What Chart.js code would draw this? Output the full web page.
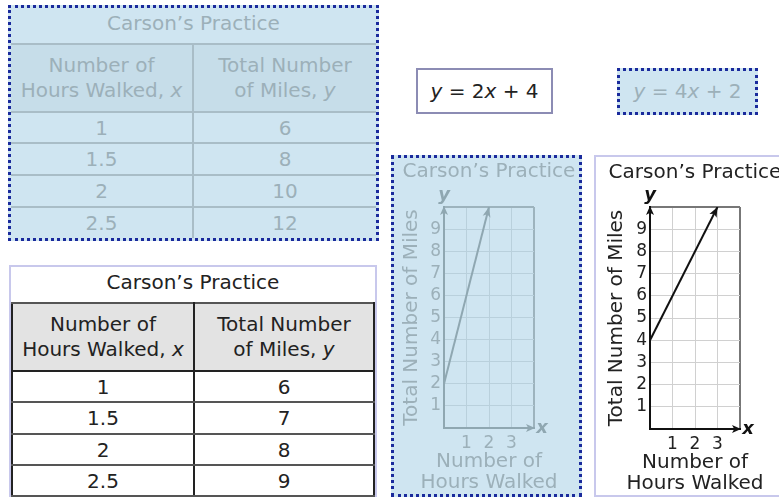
<!DOCTYPE html>
<html>
<head>
<meta charset="utf-8">
<title>Carson's Practice</title>
<script src="https://cdn.jsdelivr.net/npm/chart.js@4.4.1/dist/chart.umd.min.js"></script>
<style>
  body { margin: 0; background: #fff; font-family: "DejaVu Sans", Verdana, sans-serif; }
  #page { position: relative; width: 779px; height: 497px; overflow: hidden; }
  .abs { position: absolute; box-sizing: border-box; }
  .sel { border: 3px dotted #1a2a9c; background: #cfe5f1; color: #9cb0b9; }
  .plain { border: 2px solid #c8c8ec; background: #fff; color: #222; }
  .ttl { text-align: center; font-size: 20px; }
  table { border-collapse: collapse; width: 100%; table-layout: fixed; }
  td { text-align: center; font-size: 20px; padding: 0; }
  td.h { line-height: 25px; }
  #tblA td { border: 2px solid #a9bdc7; }
  #tblA tr td:first-child { border-left: none; }
  #tblA tr td:last-child { border-right: none; }
  #tblA tr:last-child td { border-bottom: none; }
  #tblA tr.hd td { background: #c6dde9; }
  #tblB table { border: 2px solid #222; }
  #tblB td { border: 2px solid #222; }
  #tblB td { border-top-color: #555; border-bottom-color: #555; }
  #tblB tr.hd td { background: #e3e3e3; border-bottom-color: #222; }
  .eq { font-size: 20px; text-align: center; }
  canvas { position: absolute; }
</style>
</head>
<body>
<div id="page">
  <div class="abs sel" id="tblA" style="left:8px;top:5px;width:371px;height:236px;"></div>
  <div class="abs plain" id="tblB" style="left:9px;top:265px;width:368px;height:240px;"></div>
  <div class="abs plain eq" id="eqA" style="left:416px;top:68px;width:137px;height:46px;line-height:42px;border-color:#8c8cb4;"></div>
  <div class="abs sel eq" id="eqB" style="left:617px;top:68px;width:141px;height:47px;line-height:41px;"></div>
  <div class="abs sel" style="left:391px;top:155px;width:191px;height:342px;"></div>
  <div class="abs plain" style="left:594px;top:155px;width:200px;height:342px;"></div>
  <canvas id="graphA" width="190" height="336" style="left:394px;top:158px;"></canvas>
  <canvas id="graphB" width="198" height="338" style="left:596px;top:157px;"></canvas>
</div>
<script>
// table values
const tableTitle = 'Carson’s Practice';
const hoursWalked = ['1', '1.5', '2', '2.5'];
const milesTableA = ['6', '8', '10', '12'];
const milesTableB = ['6', '7', '8', '9'];

// equation choices, y = m x + b
const eqSlopes = [2, 4];
const eqIntercepts = [4, 2];

// graph lines (x = hours, y = miles)
const graphAHours = [0, 2];
const graphAMiles = [2, 10];
const graphBHours = [0, 3];
const graphBMiles = [4, 10];

const xTickLabels = ['1', '2', '3'];
const yTickLabels = ['1', '2', '3', '4', '5', '6', '7', '8', '9'];
const xAxisTitle = ['Number of', 'Hours Walked'];
const yAxisTitle = 'Total Number of Miles';

const FONT = '"DejaVu Sans", Verdana, sans-serif';
Chart.defaults.font.family = FONT;

function tableHtml(miles, rowHeights) {
  const rows = hoursWalked.map((h, i) =>
    `<tr style="height:${rowHeights[i]}px"><td>${h}</td><td>${miles[i]}</td></tr>`).join('');
  return `
    <div class="ttl" style="height:35px;line-height:30px;">${tableTitle}</div>
    <table>
      <colgroup><col style="width:182px"><col></colgroup>
      <tr class="hd" style="height:68px">
        <td class="h">Number of<br>Hours Walked, <i>x</i></td>
        <td class="h">Total Number<br>of Miles, <i>y</i></td>
      </tr>
      ${rows}
    </table>`;
}

document.getElementById('tblA').innerHTML = tableHtml(milesTableA, [31, 32, 32, 31]);
document.getElementById('tblB').innerHTML = tableHtml(milesTableB, [31, 32, 31, 31]);
document.getElementById('eqA').innerHTML = `<i>y</i> = ${eqSlopes[0]}<i>x</i> + ${eqIntercepts[0]}`;
document.getElementById('eqB').innerHTML = `<i>y</i> = ${eqSlopes[1]}<i>x</i> + ${eqIntercepts[1]}`;

function arrowHead(ctx, x, y, ang, len, half) {
  ctx.save();
  ctx.translate(x, y);
  ctx.rotate(ang);
  ctx.beginPath();
  ctx.moveTo(0, 0);
  ctx.lineTo(-len, -half);
  ctx.lineTo(-len * 0.75, 0);
  ctx.lineTo(-len, half);
  ctx.closePath();
  ctx.fill();
  ctx.restore();
}

// arrows on axes and data line, the x / y letters and the x axis title
const arrowPlugin = {
  id: 'axisArrows',
  afterDatasetsDraw(chart, args, opts) {
    const { ctx, chartArea: a } = chart;
    ctx.save();
    ctx.fillStyle = opts.axis;
    arrowHead(ctx, a.left, a.top - 1, -Math.PI / 2, 9, 4);
    arrowHead(ctx, a.right + 1, a.bottom, 0, 9, 4);

    const pts = chart.getDatasetMeta(0).data;
    const p0 = pts[pts.length - 2], p1 = pts[pts.length - 1];
    ctx.fillStyle = opts.line;
    arrowHead(ctx, p1.x, p1.y, Math.atan2(p1.y - p0.y, p1.x - p0.x), 10, 4);

    ctx.fillStyle = opts.letter;
    ctx.font = 'italic bold 18px ' + FONT;
    ctx.textAlign = 'center';
    ctx.textBaseline = 'middle';
    ctx.fillText('y', a.left, a.top - 12);
    ctx.fillText('x', a.right + 8, a.bottom);

    // the bottom title is wider than the plot, so it is drawn here unsquashed
    ctx.fillStyle = opts.text;
    ctx.font = '20px ' + FONT;
    const cx = (a.left + a.right) / 2;
    xAxisTitle.forEach((t, i) => ctx.fillText(t, cx, a.bottom + 34 + i * 21));
    ctx.restore();
  }
};

function makeGraph(id, xs, ys, c, g) {
  const pts = xs.map((x, i) => ({ x: x, y: ys[i] }));
  return new Chart(document.getElementById(id), {
    type: 'scatter',
    data: {
      datasets: [{
        data: pts,
        showLine: true,
        borderColor: c.line,
        borderWidth: 2,
        pointRadius: 0
      }]
    },
    options: {
      responsive: false,
      animation: false,
      events: [],
      plugins: {
        legend: { display: false },
        tooltip: { enabled: false },
        title: {
          display: true,
          text: tableTitle,
          color: c.text,
          font: { size: 20, lineHeight: 1.2, weight: 'normal' },
          padding: { top: g.titleTop, bottom: g.titleBottom }
        },
        axisArrows: { axis: c.axis, line: c.line, letter: c.letter, text: c.text }
      },
      scales: {
        x: {
          type: 'linear',
          min: 0,
          max: 4,
          afterFit: s => { s.height = g.xh; s.paddingRight = g.right; },
          ticks: {
            stepSize: 1,
            autoSkip: false,
            maxRotation: 0,
            padding: 5,
            color: c.text,
            font: { size: 17 },
            callback: v => xTickLabels.includes(String(v)) ? String(v) : ''
          },
          grid: {
            drawTicks: false,
            color: ctx => ctx.tick && ctx.tick.value === 4 ? c.edge : c.grid,
            lineWidth: ctx => ctx.tick && ctx.tick.value === 4 ? 2 : 1
          },
          border: { color: c.axis, width: 2 },
          title: { display: false }
        },
        y: {
          type: 'linear',
          min: 0,
          max: 10,
          afterFit: s => { s.width = g.yw; },
          ticks: {
            stepSize: 1,
            autoSkip: false,
            padding: 3,
            color: c.text,
            font: { size: 17 },
            callback: v => yTickLabels.includes(String(v)) ? String(v) : ''
          },
          grid: {
            drawTicks: false,
            color: ctx => ctx.tick && ctx.tick.value === 10 ? c.edge : c.grid,
            lineWidth: ctx => ctx.tick && ctx.tick.value === 10 ? 2 : 1
          },
          border: { color: c.axis, width: 2 },
          title: {
            display: true,
            text: yAxisTitle,
            color: c.text,
            font: { size: 20, lineHeight: 1.15 },
            padding: { top: g.ytp, bottom: 0 }
          }
        }
      }
    },
    plugins: [arrowPlugin]
  });
}

const selectedColors = {
  line: '#8fa7b1', axis: '#8fa7b1', edge: '#9db3bd', grid: '#b9d0dc',
  text: '#9cb0b9', letter: '#8fa7b1'
};
const plainColors = {
  line: '#111', axis: '#111', edge: '#777', grid: '#d0d0d0',
  text: '#222', letter: '#111'
};

makeGraph('graphA', graphAHours, graphAMiles, selectedColors,
  { right: 50, xh: 66, yw: 50, titleTop: 2, titleBottom: 23, ytp: 6.5 });
makeGraph('graphB', graphBHours, graphBMiles, plainColors,
  { right: 54, xh: 66, yw: 54, titleTop: 4, titleBottom: 22, ytp: 9.5 });
</script>
</body>
</html>
